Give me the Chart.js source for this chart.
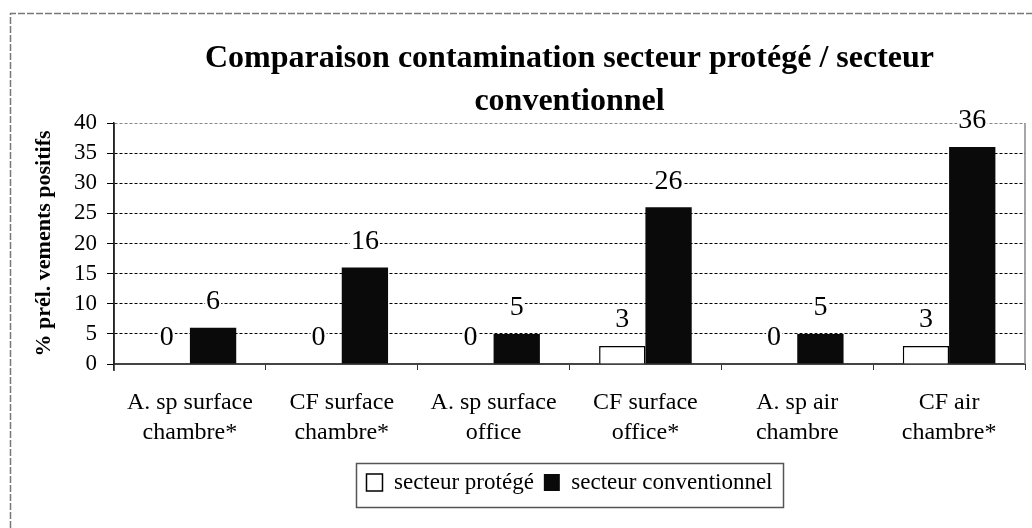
<!DOCTYPE html>
<html>
<head>
<meta charset="utf-8">
<script src="https://cdn.jsdelivr.net/npm/chart.js@4.4.1/dist/chart.umd.min.js"></script>
<style>
html,body{margin:0;padding:0;background:#fff}
</style>
</head>
<body>
<canvas id="chart" width="1032" height="528"></canvas>
<script>
// data
const categories = [
  ['A. sp surface','chambre*'],
  ['CF surface','chambre*'],
  ['A. sp surface','office'],
  ['CF surface','office*'],
  ['A. sp air','chambre'],
  ['CF air','chambre*']
];
const protege = [0, 0, 0, 3, 0, 3];
const conventionnel = [6, 16, 5, 26, 5, 36];
const seriesNames = ['secteur protégé', 'secteur conventionnel'];
const titleLines = ['Comparaison contamination secteur protégé / secteur', 'conventionnel'];
const yTitle = '% prél. vements positifs';
const yMin = 0, yMax = 40, yStep = 5;

const SERIF = '"Liberation Serif", "Times New Roman", serif';
Chart.defaults.color = '#000';
Chart.defaults.font.family = SERIF;

// numbers above bars, on a white patch so the grid line breaks around them
const valueLabels = {
  id: 'valueLabels',
  afterDatasetsDraw(chart){
    const ctx = chart.ctx;
    ctx.save();
    ctx.font = '28px ' + SERIF;
    ctx.textAlign = 'center';
    ctx.textBaseline = 'middle';
    chart.data.datasets.forEach((ds, di) => {
      chart.getDatasetMeta(di).data.forEach((bar, i) => {
        const txt = String(ds.data[i]);
        const y = bar.y - 27;
        const w = ctx.measureText(txt).width + 2;
        ctx.fillStyle = '#fff';
        ctx.fillRect(bar.x - w/2, y - 11, w, 22);
        ctx.fillStyle = '#000';
        ctx.fillText(txt, bar.x, y + 1);
      });
    });
    ctx.restore();
  }
};

// page frame, solid left axis, right border of plot, box round the legend
const frames = {
  id: 'frames',
  beforeDraw(chart){
    const ctx = chart.ctx;
    ctx.save();
    ctx.fillStyle = '#fff';
    ctx.fillRect(0, 0, chart.width, chart.height);
    ctx.strokeStyle = '#777';
    ctx.lineWidth = 1.5;
    ctx.setLineDash([7, 2]);
    ctx.beginPath();
    ctx.moveTo(10.5, chart.height); ctx.lineTo(10.5, 13.5); ctx.lineTo(chart.width, 13.5);
    ctx.stroke();
    ctx.restore();
  },
  afterDraw(chart){
    const ctx = chart.ctx, a = chart.chartArea;
    ctx.save();
    ctx.strokeStyle = '#888';
    ctx.lineWidth = 1.5;
    ctx.beginPath();
    ctx.moveTo(a.right, a.top); ctx.lineTo(a.right, a.bottom);
    ctx.stroke();
    ctx.strokeStyle = '#222';
    ctx.beginPath();
    ctx.moveTo(a.left, a.top); ctx.lineTo(a.left, a.bottom + 7);
    ctx.stroke();
    const hb = chart.legend.legendHitBoxes;
    if (hb && hb.length){
      const l = Math.min(...hb.map(h => h.left)) - 10;
      const r = Math.max(...hb.map(h => h.left + h.width)) + 11;
      const t = Math.min(...hb.map(h => h.top)) - 8;
      const b = Math.max(...hb.map(h => h.top + h.height)) + 13;
      ctx.strokeStyle = '#555';
      ctx.lineWidth = 1.5;
      ctx.strokeRect(Math.round(l) + .5, Math.round(t) + .5, Math.round(r - l), Math.round(b - t));
    }
    ctx.restore();
  }
};

const chart = new Chart(document.getElementById('chart').getContext('2d'), {
  type: 'bar',
  data: {
    labels: categories,
    datasets: [
      {label: seriesNames[0], data: protege, backgroundColor: '#fff', borderColor: '#000', borderWidth: 1.5, borderSkipped: 'bottom'},
      {label: seriesNames[1], data: conventionnel, backgroundColor: '#0a0a0a', borderColor: '#000', borderWidth: 0}
    ]
  },
  options: {
    responsive: false,
    animation: false,
    datasets: {bar: {categoryPercentage: 0.61, barPercentage: 1}},
    layout: {padding: {left: 0, right: 7, top: 0, bottom: 24}},
    plugins: {
      title: {
        display: true, text: titleLines, fullSize: false,
        font: {size: 32, weight: 'bold', lineHeight: 1.344},
        padding: {top: 37, bottom: 0}
      },
      legend: {
        position: 'bottom', fullSize: false,
        labels: {boxWidth: 16, boxHeight: 17, padding: 10, font: {size: 23}, color: '#000'}
      },
      tooltip: {enabled: false}
    },
    scales: {
      x: {
        grid: {drawOnChartArea: false, drawTicks: true, tickLength: 6, tickColor: '#333', offset: true},
        border: {color: '#444', width: 2},
        ticks: {font: {size: 24, lineHeight: 1.25}, padding: 18, maxRotation: 0, autoSkip: false},
        afterFit(s){ s.height = 97; }
      },
      y: {
        min: yMin, max: yMax,
        ticks: {stepSize: yStep, font: {size: 23}, padding: 10, autoSkip: false},
        grid: {
          color: c => c.tick && c.tick.value === yMax ? '#888' : (c.tick && c.tick.value === 0 ? '#444' : '#000'),
          lineWidth: 1, tickLength: 7, tickColor: '#000'
        },
        border: {color: '#222', width: 1.5, dash: [3, 2]},
        title: {display: true, text: yTitle, font: {size: 22, weight: 'bold'}, padding: {top: 31, bottom: 0}},
        afterFit(s){ s.width = 114; }
      }
    }
  },
  plugins: [frames, valueLabels]
});
</script>
</body>
</html>
